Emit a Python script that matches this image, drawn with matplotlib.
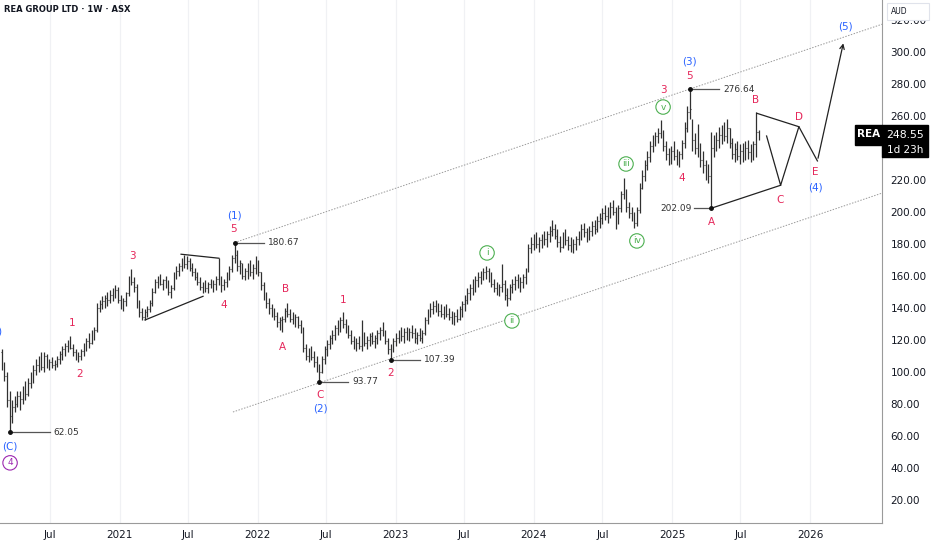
import numpy as np
import matplotlib
matplotlib.use("Agg")
import matplotlib.pyplot as plt
import matplotlib.dates as mdates
from matplotlib.patches import Rectangle
from matplotlib.transforms import blended_transform_factory

# weekly bars, REA GROUP LTD (ASX), first bar week of 2020-02-24
first_week = "2020-02-24"
first_open = 112.0

lows = [
    101, 94, 78, 62.05, 68, 75, 78, 76, 80, 82,
    85, 90, 93, 98, 100, 101, 100, 102, 101, 102,
    101, 103, 105, 107, 110, 112, 114, 110, 107, 106,
    107, 110, 113, 115, 117, 120, 125, 137, 139, 140,
    141, 143, 144, 146, 143, 139, 138, 141, 147, 154,
    150, 140, 134, 132, 132, 134, 137, 141, 149, 152,
    154, 151, 152, 148, 146, 151, 158, 160, 163, 165,
    164, 163, 160, 157, 154, 151, 149, 150, 149, 152,
    150, 151, 154, 150, 151, 153, 157, 162, 168, 163,
    161, 158, 157, 158, 160, 158, 161, 160, 151, 145,
    140, 136, 134, 132, 128, 126, 125, 131, 134, 131,
    130, 128, 127, 124, 112, 107, 106, 107, 103, 100,
    93.77, 99, 105, 110, 114, 117, 120, 123, 125, 127,
    124, 121, 117, 114, 113, 114, 113, 116, 114, 116,
    117, 115, 117, 120, 122, 117, 111, 107.39, 112, 116,
    118, 119, 118, 120, 119, 121, 118, 117, 119, 118,
    123, 130, 134, 136, 137, 135, 134, 133, 134, 132,
    130, 129, 131, 132, 134, 138, 142, 145, 148, 150,
    153, 155, 157, 158, 156, 153, 150, 148, 147, 150,
    145, 141, 145, 149, 151, 152, 150, 152, 155, 162,
    174, 176, 177, 175, 177, 179, 178, 181, 185, 183,
    178, 175, 177, 179, 176, 175, 174, 176, 179, 182,
    184, 181, 182, 185, 186, 187, 190, 192, 195, 193,
    196, 198, 189, 192, 200, 208, 200, 196, 194, 190,
    191, 199, 214, 219, 226, 231, 237, 241, 243, 246,
    238, 232, 229, 230, 232, 229, 228, 233, 240, 250,
    258, 238, 236, 234, 228, 224, 220, 218, 202.09, 234,
    238, 240, 242, 244, 243, 240, 233, 231, 232, 230,
    231, 232, 233, 231, 232, 234, 245,
]
highs = [
    114, 106, 100, 88, 82, 85, 88, 88, 91, 94,
    96, 100, 104, 108, 110, 112, 112, 111, 108, 109,
    107, 110, 113, 116, 118, 120, 122, 117, 114, 112,
    114, 118, 121, 124, 126, 128, 143, 145, 147, 148,
    150, 151, 152, 154, 153, 148, 146, 150, 160, 164,
    159, 155, 145, 140, 139, 141, 145, 152, 158, 160,
    161, 158, 160, 157, 154, 162, 166, 168, 171, 173,
    172, 171, 168, 165, 162, 159, 156, 157, 156, 158,
    157, 160, 171, 160, 158, 162, 166, 173, 180.67, 176,
    170, 168, 165, 168, 170, 167, 172, 170, 162, 156,
    150, 146, 142, 140, 137, 134, 135, 140, 143, 139,
    137, 136, 135, 132, 128, 117, 115, 116, 113, 110,
    105, 110, 116, 120, 123, 126, 129, 132, 134, 137,
    133, 129, 126, 122, 121, 122, 132, 125, 122, 124,
    125, 123, 126, 128, 131, 126, 121, 117, 121, 124,
    126, 128, 127, 128, 127, 129, 127, 125, 127, 126,
    134, 139, 143, 144, 145, 143, 142, 141, 142, 140,
    138, 137, 139, 141, 144, 148, 152, 155, 158, 160,
    162, 163, 165, 166, 165, 162, 158, 156, 155, 167,
    157, 152, 155, 158, 160, 161, 159, 161, 165, 180,
    184, 186, 187, 184, 186, 188, 188, 191, 195, 192,
    189, 185, 187, 189, 185, 184, 183, 185, 188, 192,
    193, 190, 191, 194, 195, 197, 199, 202, 204, 203,
    206, 207, 203, 204, 213, 221, 214, 206, 203, 200,
    203, 218, 226, 232, 238, 244, 248, 250, 252, 257,
    251, 244, 240, 241, 244, 239, 238, 245, 256, 266,
    276.64, 258, 249, 255, 243, 238, 232, 230, 250, 248,
    250, 253, 254, 256, 258, 252, 246, 243, 244, 242,
    243, 244, 245, 242, 244, 262, 251,
]
closes = [
    104, 97, 82, 72, 78, 80, 85, 83, 88, 86,
    93, 97, 101, 104, 106, 103, 110, 104, 106, 104,
    105, 108, 111, 114, 116, 118, 115, 112, 109, 110,
    113, 116, 119, 118, 124, 126, 140, 142, 144, 146,
    145, 148, 147, 151, 145, 142, 144, 149, 158, 156,
    153, 142, 137, 134, 137, 139, 143, 150, 156, 158,
    155, 157, 154, 150, 152, 160, 163, 166, 168, 167,
    169, 165, 162, 159, 156, 153, 154, 152, 155, 153,
    155, 158, 160, 154, 156, 160, 164, 171, 173, 166,
    168, 160, 163, 166, 162, 165, 169, 162, 154, 147,
    143, 140, 138, 135, 131, 132, 133, 138, 136, 133,
    132, 134, 129, 127, 115, 110, 112, 109, 106, 104,
    100, 108, 114, 117, 121, 123, 127, 129, 132, 130,
    126, 123, 119, 116, 118, 116, 125, 118, 120, 122,
    119, 121, 124, 126, 124, 119, 114, 115, 119, 121,
    123, 122, 125, 123, 125, 124, 121, 123, 121, 124,
    132, 137, 139, 141, 139, 138, 136, 139, 136, 134,
    132, 135, 133, 139, 142, 145, 149, 152, 155, 157,
    159, 161, 162, 163, 158, 155, 152, 150, 153, 155,
    148, 146, 153, 155, 157, 154, 156, 159, 163, 177,
    180, 182, 180, 182, 184, 183, 186, 188, 189, 185,
    181, 178, 184, 182, 179, 178, 180, 183, 185, 189,
    187, 183, 188, 191, 189, 194, 196, 199, 197, 201,
    203, 200, 193, 202, 211, 214, 203, 199, 197, 193,
    201, 215, 222, 229, 234, 241, 245, 247, 249, 250,
    241, 236, 233, 238, 235, 232, 236, 243, 252, 262,
    264, 245, 240, 241, 232, 229, 224, 222, 240, 243,
    245, 248, 250, 247, 252, 243, 236, 239, 235, 238,
    234, 240, 237, 235, 242, 250, 248.55,
]

ticker = "REA"
countdown = "1d 23h"

# swing extremes marked with a price tag: (bar index, price)
pivots = [(3, 62.05), (88, 180.67), (120, 93.77), (147, 107.39),
          (260, 276.64), (268, 202.09)]

# Elliott wave labels: (text, bar index, price, style)
wave_labels = [
    ("(B)", -2.6, 124.8, "blue"),
    ("(C)", 3.2, 53.0, "blue"), ("4", 3.2, 43.0, "purple"),
    ("1", 26.6, 130.4, "red"), ("2", 29.6, 98.6, "red"),
    ("3", 49.6, 172.3, "red"), ("4", 84.0, 141.7, "red"),
    ("5", 87.8, 189.2, "red"), ("(1)", 87.8, 197.9, "blue"),
    ("A", 106.3, 115.4, "red"), ("B", 107.1, 151.7, "red"),
    ("C", 120.3, 85.4, "red"), ("(2)", 120.3, 76.7, "blue"),
    ("1", 129.0, 144.8, "red"), ("2", 147.1, 99.2, "red"),
    ("i", 183.4, 174.2, "green"), ("ii", 192.8, 131.7, "green"),
    ("iii", 235.9, 229.8, "green"), ("iv", 240.0, 181.7, "green"),
    ("v", 249.9, 265.4, "green"), ("3", 249.9, 276.0, "red"),
    ("4", 257.0, 221.0, "red"), ("5", 259.7, 284.8, "red"),
    ("(3)", 259.7, 293.6, "blue"), ("A", 268.0, 193.6, "red"),
    ("B", 285.0, 269.8, "red"), ("C", 294.1, 207.4, "red"),
    ("D", 301.3, 259.2, "red"), ("E", 307.3, 224.8, "red"),
    ("(4)", 307.3, 215.4, "blue"), ("(5)", 318.6, 316.0, "blue"),
]

# projected path for wave (4) triangle and wave (5)
proj_b = [(285.3, 261.5), (301.2, 253.1)]
proj_a = [(268.0, 202.09), (294.3, 216.5)]
proj_cde = [(289.0, 247.3), (294.3, 216.5), (301.2, 253.1), (308.2, 231.7)]
proj_five = [(308.2, 231.7), (318.2, 306.9)]
# triangle in wave 4 of (1)
tri_low = [(54.2, 132.3), (76.1, 147.1)]
tri_high = [(67.8, 173.4), (82.1, 170.9)]

tick_dates = ["2020-07-01", "2021-01-01", "2021-07-01", "2022-01-01",
              "2022-07-01", "2023-01-01", "2023-07-01", "2024-01-01",
              "2024-07-01", "2025-01-01", "2025-07-01", "2026-01-01"]
tick_labels = ["Jul", "2021", "Jul", "2022", "Jul", "2023",
               "Jul", "2024", "Jul", "2025", "Jul", "2026"]
price_ticks = list(range(20, 321, 20))

colors = {"red": "#e5265a", "blue": "#2962ff", "green": "#4caf50",
          "purple": "#9c27b0"}
ink = "#131722"
bar_color = "#303030"

x0 = mdates.date2num(np.datetime64(first_week))


def bx(i):
    return x0 + 7.0 * np.asarray(i, dtype=float)


fig = plt.figure(figsize=(9.32, 5.5), dpi=100)
ax = fig.add_axes([0, 27 / 550, 882 / 932, 523 / 550])
ax.set_xlim(bx(-0.6), bx(332.6))
ax.set_ylim(5.4, 332.3)

# grid
for d in tick_dates:
    ax.axvline(mdates.date2num(np.datetime64(d)), color="#f0f1f4", lw=0.9, zorder=0)

# channel
slope = (pivots[4][1] - pivots[1][1]) / (pivots[4][0] - pivots[1][0])
ends = np.array([pivots[1][0], 340.0])
ax.plot(bx(ends), pivots[1][1] + slope * (ends - pivots[1][0]),
        color="#9a9a9a", lw=0.7, ls=(0, (1.5, 1.5)), zorder=1)
ends2 = np.array([87.4, 340.0])
ax.plot(bx(ends2), pivots[2][1] - 0.8 + slope * (ends2 - pivots[2][0]),
        color="#9a9a9a", lw=0.7, ls=(0, (1.5, 1.5)), zorder=1)

# OHLC bars
xs = bx(np.arange(len(closes)))
opens = [first_open] + closes[:-1]
ax.vlines(xs, lows, highs, color=bar_color, lw=0.9, zorder=3)
ax.hlines(opens, xs - 1.8, xs, color=bar_color, lw=0.8, zorder=3)
ax.hlines(closes, xs, xs + 1.8, color=bar_color, lw=0.8, zorder=3)

# drawings
for seg in (proj_b, proj_a, proj_cde, tri_low, tri_high):
    seg = np.array(seg)
    ax.plot(bx(seg[:, 0]), seg[:, 1], color="#222222", lw=0.9, zorder=4)
(e_i, e_p), (t_i, t_p) = proj_five
ax.annotate("", xy=(bx(t_i), t_p), xytext=(bx(e_i), e_p),
            arrowprops=dict(arrowstyle="->", color="#222222", lw=0.9,
                            mutation_scale=8), zorder=4)

# pivot price tags
for k, (i, p) in enumerate(pivots):
    ax.plot(bx(i), p, "o", color="#111111", ms=2.5, zorder=5)
    if k == 5:
        ax.plot(bx([i - 6.5, i]), [p, p], color="#555555", lw=0.9, zorder=4)
        ax.text(bx(i - 7.2), p, f"{p:.2f}", fontsize=6.5, color="#333333",
                ha="right", va="center")
    else:
        length = 15.1 if k == 0 else 11
        ax.plot(bx([i, i + length]), [p, p], color="#555555", lw=0.9, zorder=4)
        ax.text(bx(i + length + 1.5), p, f"{p:.2f}", fontsize=6.5,
                color="#333333", ha="left", va="center")

# wave labels
for text, i, p, style in wave_labels:
    c = colors[style]
    if style in ("green", "purple"):
        ax.text(bx(i), p, text, fontsize=6.5, color=c, ha="center", va="center",
                zorder=6, bbox=dict(boxstyle="circle,pad=0.3", fc="white",
                                    ec=c, lw=0.8))
    else:
        ax.text(bx(i), p, text, fontsize=7.5, color=c, ha="center",
                va="center", zorder=6, clip_on=True)

# axes styling; the 240 label sits under the last-price tag
last = closes[-1]
ax.yaxis.tick_right()
ax.set_yticks(price_ticks)
ax.set_yticklabels(["" if abs(v - last) < 10 else f"{v:.2f}" for v in price_ticks])
ax.set_xticks([mdates.date2num(np.datetime64(d)) for d in tick_dates])
ax.set_xticklabels(tick_labels)
ax.tick_params(axis="both", length=0, labelsize=7.5, colors=ink)
ax.tick_params(axis="y", pad=6)
ax.tick_params(axis="x", pad=5)
for side in ("top", "left"):
    ax.spines[side].set_visible(False)
for side in ("right", "bottom"):
    ax.spines[side].set_color("#9a9a9a")
    ax.spines[side].set_linewidth(0.8)

# last price tags
tr = blended_transform_factory(ax.transAxes, ax.transData)
ax.add_patch(Rectangle((855 / 882, last - 6.6), 27 / 882, 12.5, transform=tr,
                       color="black", clip_on=False, zorder=7))
ax.text(868.5 / 882, last - 0.3, ticker, transform=tr, color="white",
        fontsize=7.5, fontweight="bold", ha="center", va="center", zorder=8)
ax.add_patch(Rectangle((1.0, last - 14.4), 46 / 882, 20.1, transform=tr,
                       color="black", clip_on=False, zorder=7))
ax.text(1.026, last - 0.5, f"{last:.2f}", transform=tr, color="white",
        fontsize=7.8, ha="center", va="center", zorder=8, clip_on=False)
ax.text(1.026, last - 9.8, countdown, transform=tr, color="white",
        fontsize=7.5, ha="center", va="center", zorder=8, clip_on=False)

# currency box
fig.patches.append(Rectangle((887 / 932, 530 / 550), 42 / 932, 17 / 550,
                             transform=fig.transFigure, fc="white",
                             ec="#e0e3eb", lw=0.8, zorder=9))
fig.text(891 / 932, 539 / 550, "AUD", fontsize=5.5, color=ink,
         va="center", ha="left", zorder=10)

fig.text(4 / 932, 540 / 550, "REA GROUP LTD · 1W · ASX", fontsize=6,
         fontweight="bold", color=ink, va="center", ha="left")

fig.savefig("out.png", dpi=100, facecolor="white")
